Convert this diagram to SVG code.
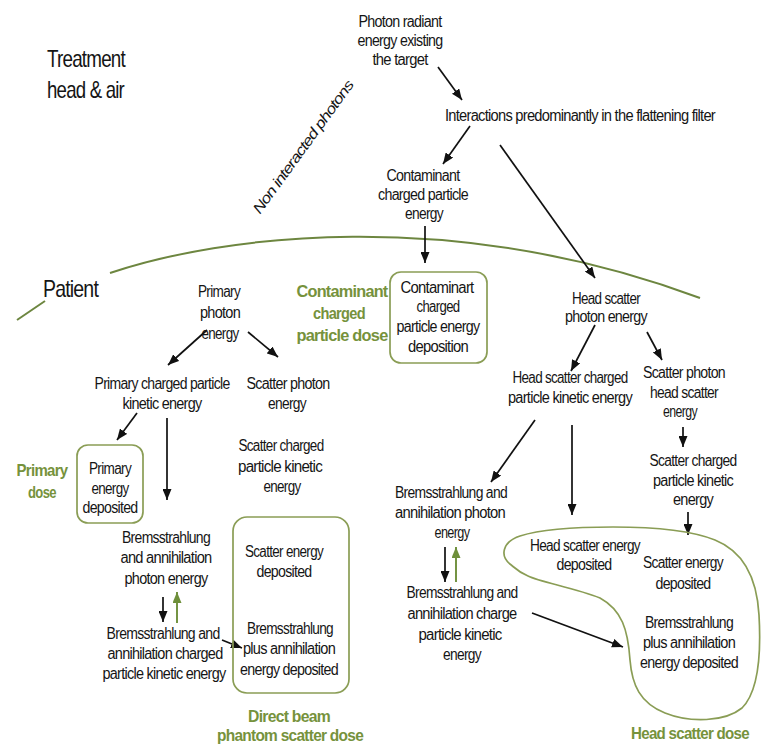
<svg xmlns="http://www.w3.org/2000/svg" width="764" height="749" viewBox="0 0 764 749">
<defs>
<style>
text{font-family:"Liberation Sans",Arial,sans-serif;font-size:16px;letter-spacing:-0.8px;fill:#151515;text-anchor:middle}
.g{font-weight:bold;font-size:17px;fill:#76923c}
.big{font-size:24px;letter-spacing:-1px;text-anchor:start}
.it{font-style:italic;font-size:14.5px}
.box{fill:none;stroke:#8a9d55;stroke-width:1.7}
.arr{fill:none;stroke:#111;stroke-width:1.7;marker-end:url(#ah)}
.garr{fill:none;stroke:#6e8f3a;stroke-width:1.9;marker-end:url(#gh)}
.curve{fill:none;stroke:#6d8640;stroke-width:2}
</style>
<marker id="ah" viewBox="0 0 11 9" refX="11" refY="4.5" markerWidth="11" markerHeight="9" markerUnits="userSpaceOnUse" orient="auto"><path d="M0,0 L11,4.5 L0,9 z" fill="#111"/></marker>
<marker id="gh" viewBox="0 0 11 9" refX="11" refY="4.5" markerWidth="11" markerHeight="9" markerUnits="userSpaceOnUse" orient="auto"><path d="M0,0 L11,4.5 L0,9 z" fill="#6e8f3a"/></marker>
</defs>
<rect width="764" height="749" fill="#fff"/>

<g id="regions">
<path class="curve" d="M17,320 L45,301"/>
<path class="curve" d="M110,273 C220,236 450,205 700,298"/>
<text class="big" x="47" y="67" textLength="78" lengthAdjust="spacingAndGlyphs">Treatment</text>
<text class="big" x="47" y="98" textLength="77" lengthAdjust="spacingAndGlyphs">head &amp; air</text>
<text class="big" x="43" y="297" textLength="55" lengthAdjust="spacingAndGlyphs">Patient</text>
<text class="it" transform="translate(307,150) rotate(-54)" x="0" y="0" textLength="160" lengthAdjust="spacingAndGlyphs">Non interacted photons</text>
</g>

<g id="connectors">
<line class="arr" x1="438" y1="67" x2="462" y2="100"/>
<line class="arr" x1="470" y1="126" x2="443" y2="164"/>
<line class="arr" x1="500" y1="145" x2="595" y2="278"/>
<line class="arr" x1="425" y1="226" x2="425" y2="263"/>
<line class="arr" x1="207" y1="330" x2="168" y2="365"/>
<line class="arr" x1="248" y1="332" x2="278" y2="357"/>
<line class="arr" x1="137" y1="413" x2="117" y2="440"/>
<line class="arr" x1="167" y1="418" x2="167" y2="500"/>
<line class="arr" x1="163" y1="597" x2="163" y2="622"/>
<line class="garr" x1="177" y1="623" x2="177" y2="592"/>
<line class="arr" x1="222" y1="640" x2="242" y2="648"/>
<line class="arr" x1="595" y1="325" x2="571" y2="371"/>
<line class="arr" x1="647" y1="332" x2="662" y2="360"/>
<line class="arr" x1="683" y1="427" x2="683" y2="447"/>
<line class="arr" x1="688" y1="512" x2="688" y2="535"/>
<line class="arr" x1="535" y1="420" x2="491" y2="482"/>
<line class="arr" x1="572" y1="425" x2="572" y2="515"/>
<line class="arr" x1="445" y1="547" x2="445" y2="582"/>
<line class="garr" x1="456" y1="582" x2="456" y2="547"/>
<line class="arr" x1="532" y1="613" x2="623" y2="647"/>
</g>

<g id="n_photon_radiant">
<text x="400" y="27" textLength="83" lengthAdjust="spacingAndGlyphs">Photon radiant</text>
<text x="400" y="46" textLength="85" lengthAdjust="spacingAndGlyphs">energy existing</text>
<text x="400" y="65" textLength="55" lengthAdjust="spacingAndGlyphs">the target</text>
</g>

<g id="n_interactions">
<text x="580" y="121" textLength="270" lengthAdjust="spacingAndGlyphs">Interactions predominantly in the flattening filter</text>
</g>

<g id="n_contaminant_energy">
<text x="423" y="181" textLength="73" lengthAdjust="spacingAndGlyphs">Contaminant</text>
<text x="423" y="200" textLength="90" lengthAdjust="spacingAndGlyphs">charged particle</text>
<text x="424" y="219" textLength="38" lengthAdjust="spacingAndGlyphs">energy</text>
</g>

<g id="n_contaminant_deposition">
<rect class="box" x="390" y="272" width="97" height="91" rx="11"/>
<text x="437" y="293" textLength="73" lengthAdjust="spacingAndGlyphs">Contaminart</text>
<text x="438" y="312" textLength="43" lengthAdjust="spacingAndGlyphs">charged</text>
<text x="438" y="332" textLength="83" lengthAdjust="spacingAndGlyphs">particle energy</text>
<text x="438" y="352" textLength="60" lengthAdjust="spacingAndGlyphs">deposition</text>
</g>

<g id="lbl_contaminant_dose">
<text class="g" x="342" y="297" textLength="91" lengthAdjust="spacingAndGlyphs">Contaminant</text>
<text class="g" x="339" y="319" textLength="52" lengthAdjust="spacingAndGlyphs">charged</text>
<text class="g" x="342" y="341" textLength="91" lengthAdjust="spacingAndGlyphs">particle dose</text>
</g>

<g id="n_primary_photon">
<text x="219" y="297" textLength="42" lengthAdjust="spacingAndGlyphs">Primary</text>
<text x="220" y="318" textLength="40" lengthAdjust="spacingAndGlyphs">photon</text>
<text x="220" y="339" textLength="37" lengthAdjust="spacingAndGlyphs">energy</text>
</g>

<g id="n_primary_charged">
<text x="162" y="389" textLength="135" lengthAdjust="spacingAndGlyphs">Primary charged particle</text>
<text x="162" y="409" textLength="79" lengthAdjust="spacingAndGlyphs">kinetic energy</text>
</g>

<g id="n_scatter_photon">
<text x="288" y="389" textLength="83" lengthAdjust="spacingAndGlyphs">Scatter photon</text>
<text x="287" y="409" textLength="38" lengthAdjust="spacingAndGlyphs">energy</text>
</g>

<g id="n_primary_deposited">
<rect class="box" x="77" y="445" width="66" height="78" rx="11"/>
<text x="110" y="474" textLength="42" lengthAdjust="spacingAndGlyphs">Primary</text>
<text x="110" y="494" textLength="37" lengthAdjust="spacingAndGlyphs">energy</text>
<text x="110" y="513" textLength="55" lengthAdjust="spacingAndGlyphs">deposited</text>
</g>

<g id="lbl_primary_dose">
<text class="g" x="42" y="476" textLength="51" lengthAdjust="spacingAndGlyphs">Primary</text>
<text class="g" x="42" y="498" textLength="28" lengthAdjust="spacingAndGlyphs">dose</text>
</g>

<g id="n_scatter_charged_left">
<text x="281" y="451" textLength="85" lengthAdjust="spacingAndGlyphs">Scatter charged</text>
<text x="280" y="472" textLength="84" lengthAdjust="spacingAndGlyphs">particle kinetic</text>
<text x="282" y="492" textLength="37" lengthAdjust="spacingAndGlyphs">energy</text>
</g>

<g id="n_direct_beam_box">
<rect class="box" x="233" y="517" width="116" height="176" rx="14"/>
<text x="284" y="557" textLength="78" lengthAdjust="spacingAndGlyphs">Scatter energy</text>
<text x="284" y="577" textLength="55" lengthAdjust="spacingAndGlyphs">deposited</text>
<text x="290" y="634" textLength="86" lengthAdjust="spacingAndGlyphs">Bremsstrahlung</text>
<text x="289" y="654" textLength="92" lengthAdjust="spacingAndGlyphs">plus annihilation</text>
<text x="289" y="675" textLength="98" lengthAdjust="spacingAndGlyphs">energy deposited</text>
</g>

<g id="lbl_direct_beam">
<text class="g" x="289" y="722" textLength="82" lengthAdjust="spacingAndGlyphs">Direct beam</text>
<text class="g" x="290" y="741" textLength="146" lengthAdjust="spacingAndGlyphs">phantom scatter dose</text>
</g>

<g id="n_brems_photon_left">
<text x="166" y="543" textLength="88" lengthAdjust="spacingAndGlyphs">Bremsstrahlung</text>
<text x="166" y="563" textLength="91" lengthAdjust="spacingAndGlyphs">and annihilation</text>
<text x="166" y="584" textLength="83" lengthAdjust="spacingAndGlyphs">photon energy</text>
</g>

<g id="n_brems_charged_left">
<text x="163" y="639" textLength="113" lengthAdjust="spacingAndGlyphs">Bremsstrahlung and</text>
<text x="165" y="659" textLength="115" lengthAdjust="spacingAndGlyphs">annihilation charged</text>
<text x="164" y="679" textLength="123" lengthAdjust="spacingAndGlyphs">particle kinetic energy</text>
</g>

<g id="n_head_scatter_photon">
<text x="606" y="304" textLength="68" lengthAdjust="spacingAndGlyphs">Head scatter</text>
<text x="606" y="322" textLength="82" lengthAdjust="spacingAndGlyphs">photon energy</text>
</g>

<g id="n_head_scatter_charged">
<text x="570" y="383" textLength="115" lengthAdjust="spacingAndGlyphs">Head scatter charged</text>
<text x="570" y="403" textLength="124" lengthAdjust="spacingAndGlyphs">particle kinetic energy</text>
</g>

<g id="n_scatter_photon_head">
<text x="684" y="378" textLength="82" lengthAdjust="spacingAndGlyphs">Scatter photon</text>
<text x="684" y="398" textLength="68" lengthAdjust="spacingAndGlyphs">head scatter</text>
<text x="680" y="417" textLength="34" lengthAdjust="spacingAndGlyphs">energy</text>
</g>

<g id="n_scatter_charged_right">
<text x="693" y="466" textLength="87" lengthAdjust="spacingAndGlyphs">Scatter charged</text>
<text x="693" y="486" textLength="80" lengthAdjust="spacingAndGlyphs">particle kinetic</text>
<text x="693" y="505" textLength="40" lengthAdjust="spacingAndGlyphs">energy</text>
</g>

<g id="n_brems_photon_right">
<text x="451" y="498" textLength="112" lengthAdjust="spacingAndGlyphs">Bremsstrahlung and</text>
<text x="450" y="518" textLength="110" lengthAdjust="spacingAndGlyphs">annihilation photon</text>
<text x="452" y="538" textLength="35" lengthAdjust="spacingAndGlyphs">energy</text>
</g>

<g id="n_brems_charged_right">
<text x="462" y="598" textLength="111" lengthAdjust="spacingAndGlyphs">Bremsstrahlung and</text>
<text x="462" y="619" textLength="109" lengthAdjust="spacingAndGlyphs">annihilation charge</text>
<text x="460" y="640" textLength="83" lengthAdjust="spacingAndGlyphs">particle kinetic</text>
<text x="462" y="660" textLength="38" lengthAdjust="spacingAndGlyphs">energy</text>
</g>

<g id="n_head_scatter_blob">
<path class="box" d="M510,564 C500,556 502,542 520,536 C545,528 580,527 613,527 C650,527 690,530 715,540 C745,552 757,580 759,615 C761,650 760,690 742,708 C725,722 690,723 665,713 C640,703 632,685 630,660 C628,630 622,610 600,598 C575,588 540,582 528,576 C518,572 514,567 510,564 Z"/>
<text x="585" y="551" textLength="110" lengthAdjust="spacingAndGlyphs">Head scatter energy</text>
<text x="584" y="570" textLength="55" lengthAdjust="spacingAndGlyphs">deposited</text>
<text x="683" y="568" textLength="80" lengthAdjust="spacingAndGlyphs">Scatter energy</text>
<text x="683" y="589" textLength="55" lengthAdjust="spacingAndGlyphs">deposited</text>
<text x="689" y="628" textLength="88" lengthAdjust="spacingAndGlyphs">Bremsstrahlung</text>
<text x="689" y="648" textLength="92" lengthAdjust="spacingAndGlyphs">plus annihilation</text>
<text x="689" y="668" textLength="98" lengthAdjust="spacingAndGlyphs">energy deposited</text>
</g>

<g id="lbl_head_scatter_dose">
<text class="g" x="690" y="739" textLength="118" lengthAdjust="spacingAndGlyphs">Head scatter dose</text>
</g>
</svg>
